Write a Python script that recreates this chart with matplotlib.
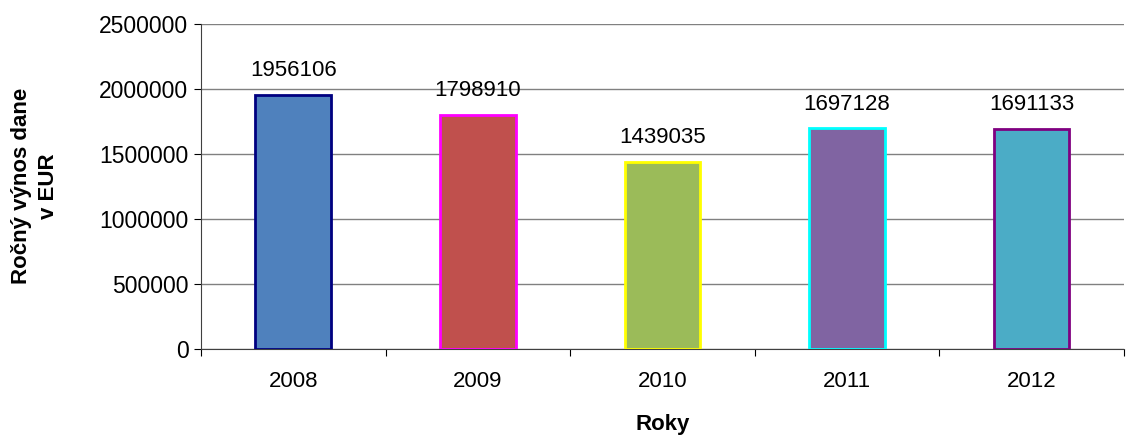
import matplotlib.pyplot as plt
import numpy as np

plt.rcParams['font.family'] = ['Liberation Sans', 'DejaVu Sans']

years = ["2008", "2009", "2010", "2011", "2012"]
values = [1956106, 1798910, 1439035, 1697128, 1691133]
fill_colors = ["#4F81BD", "#C0504D", "#9BBB59", "#8064A2", "#4BACC6"]
edge_colors = ["#000080", "#FF00FF", "#FFFF00", "#00FFFF", "#800080"]
ylabel_lines = ["Ročný výnos dane", "v EUR"]

fig = plt.figure(figsize=(11.34, 4.37), dpi=100)
ax = fig.add_axes([0.1772, 0.2014, 0.8138, 0.7436])

x = np.arange(len(years))
bars = ax.bar(x, values, width=0.41, color=fill_colors, edgecolor=edge_colors,
              linewidth=2, zorder=3)

for xi, v in zip(x, values):
    ax.annotate(str(v), (xi, v), xytext=(0, 10), textcoords="offset points",
                ha="center", va="bottom", fontsize=16)

ax.set_xlim(-0.5, len(years) - 0.5)
ax.set_ylim(0, 2500000)
ax.set_yticks(np.arange(0, 2500001, 500000))
ax.set_yticklabels([str(t) for t in range(0, 2500001, 500000)], fontsize=16.5)

# category labels centred, ticks between categories
ax.set_xticks(np.arange(-0.5, len(years), 1.0))
ax.set_xticklabels([])
ax.set_xticks(x, minor=True)
ax.set_xticklabels(years, minor=True, fontsize=16)
ax.tick_params(axis="x", which="minor", length=0, pad=16)
ax.tick_params(axis="x", which="major", length=5, color="#000000")
ax.tick_params(axis="y", length=5, pad=4)

ax.grid(axis="y", color="#808080", linewidth=1, zorder=0)
ax.spines["top"].set_visible(False)
ax.spines["right"].set_visible(False)
ax.spines["left"].set_color("#404040")
ax.spines["bottom"].set_color("#404040")

ax.set_xlabel("Roky", fontsize=16, fontweight="bold", labelpad=16)

# two-line y label, each line centred on the same point
for xpos, line in zip([0.019, 0.043], ylabel_lines):
    fig.text(xpos, 0.574, line, fontsize=16, fontweight="bold",
             rotation=90, ha="center", va="center")

fig.savefig("out.png", dpi=100)
